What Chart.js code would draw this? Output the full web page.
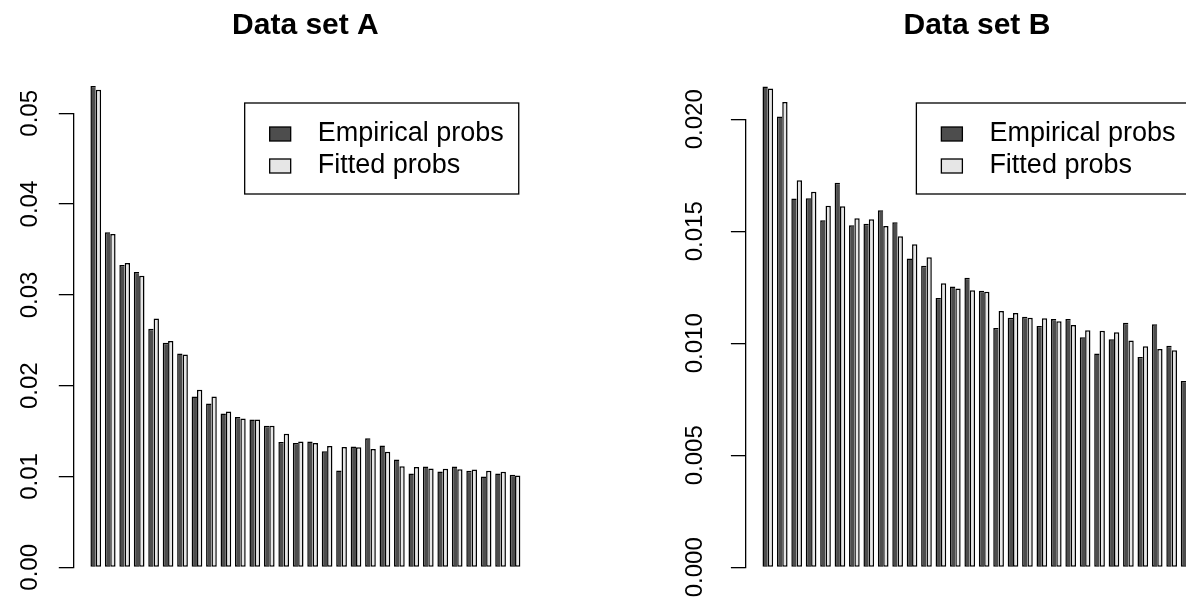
<!DOCTYPE html>
<html>
<head>
<meta charset="utf-8">
<script src="https://cdn.jsdelivr.net/npm/chart.js@4.4.1/dist/chart.umd.min.js"></script>
<style>
  html, body { margin: 0; padding: 0; background: #fff; overflow: hidden; }
  #wrap { position: relative; width: 1186px; height: 599px; overflow: hidden; }
  canvas { position: absolute; top: 0; }
  #chartA { left: 0; }
  #chartB { left: 593px; }
</style>
</head>
<body>
<div id="wrap">
  <canvas id="chartA" width="593" height="599"></canvas>
  <canvas id="chartB" width="615" height="599"></canvas>
</div>
<script>
const FONT = "'Liberation Sans', Arial, Helvetica, sans-serif";

// ranks (one group of two bars each)
const ranks = ['1', '2', '3', '4', '5', '6', '7', '8', '9', '10',
    '11', '12', '13', '14', '15', '16', '17', '18', '19', '20',
    '21', '22', '23', '24', '25', '26', '27', '28', '29', '30'];

const seriesNames = ['Empirical probs', 'Fitted probs'];

// Data set A
const empiricalA = [0.0530, 0.03689, 0.0333, 0.03252, 0.02627, 0.02473, 0.02355, 0.01881, 0.01804, 0.01694,
    0.01654, 0.01628, 0.01558, 0.01381, 0.0137, 0.01385, 0.01279, 0.01065, 0.0133, 0.01422,
    0.01341, 0.01186, 0.01032, 0.01109, 0.01054, 0.01109, 0.01062, 0.00999, 0.01032, 0.01018];
const fittedA = [0.0526, 0.03671, 0.03352, 0.03212, 0.02741, 0.02491, 0.02344, 0.01955, 0.01881, 0.01716,
    0.01639, 0.01628, 0.01558, 0.0147, 0.01385, 0.0137, 0.01337, 0.01326, 0.01323, 0.01304,
    0.01272, 0.01113, 0.01106, 0.01087, 0.01084, 0.0108, 0.01076, 0.01062, 0.01051, 0.0101];
const yTicksA = ['0.00', '0.01', '0.02', '0.03', '0.04', '0.05'];

// Data set B (last fitted bar is outside the picture)
const empiricalB = [0.02146, 0.02012, 0.01646, 0.01647, 0.01549, 0.01717, 0.01527, 0.01534, 0.01594, 0.0154,
    0.01379, 0.01346, 0.01202, 0.01254, 0.01293, 0.01235, 0.01068, 0.01114, 0.01119, 0.01077,
    0.01108, 0.01108, 0.01027, 0.00954, 0.01018, 0.01092, 0.00939, 0.01085, 0.00989, 0.00832];
const fittedB = [0.02137, 0.02077, 0.01728, 0.01677, 0.01614, 0.01612, 0.01558, 0.01554, 0.01524, 0.01478,
    0.01442, 0.01384, 0.01268, 0.01245, 0.01237, 0.0123, 0.01144, 0.01135, 0.01114, 0.01112,
    0.01098, 0.01082, 0.01058, 0.01056, 0.01049, 0.01012, 0.00987, 0.00975, 0.00969, null];
const yTicksB = ['0.000', '0.005', '0.010', '0.015', '0.020'];

const darkFill = '#4d4d4d';
const lightFill = '#e6e6e6';
const lw = 1.5;

// boxed legend like R's legend()
const boxLegend = {
    id: 'boxLegend',
    afterDraw(chart, args, opts) {
        const ctx = chart.ctx;
        const x0 = chart.scales.x.getPixelForValue(opts.at);
        const y0 = opts.top;
        ctx.save();
        ctx.font = opts.fontSize + 'px ' + FONT;
        const tw = Math.max(...chart.data.datasets.map(d => ctx.measureText(d.label).width));
        const w = 73 + tw + 15, h = 91;
        ctx.lineWidth = 1.3;
        ctx.strokeStyle = '#000';
        ctx.fillStyle = '#fff';
        ctx.fillRect(x0, y0, w, h);
        ctx.strokeRect(x0, y0, w, h);
        chart.data.datasets.forEach((d, i) => {
            const cy = y0 + 31 + i * 32;
            ctx.fillStyle = d.backgroundColor;
            ctx.fillRect(x0 + 25, cy - 7, 21, 14);
            ctx.strokeRect(x0 + 25, cy - 7, 21, 14);
            ctx.fillStyle = '#000';
            ctx.textAlign = 'left';
            ctx.textBaseline = 'middle';
            ctx.fillText(d.label, x0 + 73, cy);
        });
        ctx.restore();
    }
};

function makeChart(canvasId, title, empirical, fitted, yMax, yStep, yTicks, axisWidth, pad, titleBottom) {
    const ctx = document.getElementById(canvasId).getContext('2d');
    return new Chart(ctx, {
        type: 'bar',
        data: {
            labels: ranks,
            datasets: [
                // right edge is shared with the fitted bar's left border
                { label: seriesNames[0], data: empirical, backgroundColor: darkFill, borderColor: '#000',
                  borderWidth: { left: lw, right: 0, top: lw, bottom: lw }, borderSkipped: false, clip: false },
                { label: seriesNames[1], data: fitted, backgroundColor: lightFill, borderColor: '#000',
                  borderWidth: lw, borderSkipped: false, clip: false },
            ],
        },
        options: {
            responsive: false,
            animation: false,
            events: [],
            categoryPercentage: 0.74,
            barPercentage: 1,
            layout: { padding: pad },
            scales: {
                x: {
                    type: 'linear', min: -0.52, max: 31.52, display: false,
                    offset: false, grid: { offset: false },
                    afterBuildTicks: (s) => { s.ticks = ranks.map(r => ({ value: +r })); },
                },
                y: {
                    min: 0, max: yMax,
                    afterFit: (s) => { s.width = axisWidth; },
                    border: { display: true, color: '#000', width: 1.3 },
                    grid: { drawOnChartArea: false, drawTicks: true, tickLength: 15, color: '#000', lineWidth: 1.3 },
                    ticks: {
                        stepSize: yStep, color: '#000', padding: 5,
                        minRotation: 90, maxRotation: 90, crossAlign: 'center',
                        font: { family: FONT, size: 24 },
                        callback: (value, index) => yTicks[index],
                    },
                },
            },
            plugins: {
                legend: { display: false },
                tooltip: { enabled: false },
                title: {
                    display: true, text: title, color: '#000', fullSize: false,
                    font: { family: FONT, size: 30, weight: 'bold', lineHeight: 1.2 },
                    padding: { top: 8, bottom: titleBottom },
                },
                boxLegend: { at: 11.3, top: 103, fontSize: 27 },
            },
        },
        plugins: [boxLegend],
    });
}

const chartA = makeChart('chartA', 'Data set A', empiricalA, fittedA, 0.05, 0.01, yTicksA, 73.8,
    { left: 0, right: 56, top: 0, bottom: 31.7 }, 69.3);
const chartB = makeChart('chartB', 'Data set B', empiricalB, fittedB, 0.02, 0.005, yTicksB, 152.9,
    { left: 0, right: 0, top: 0, bottom: 31.7 }, 75.3);
</script>
</body>
</html>
